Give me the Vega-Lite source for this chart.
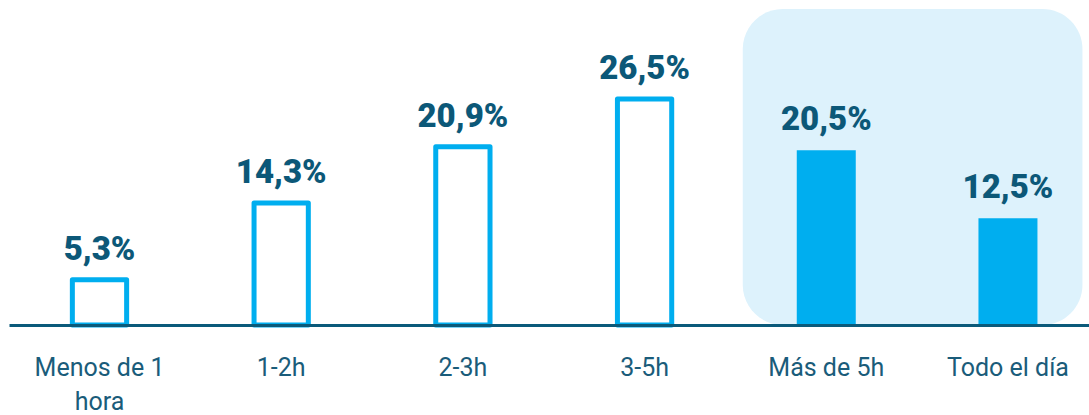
{
  "$schema": "https://vega.github.io/schema/vega-lite/v6.json",
  "width": 1080,
  "height": 325,
  "padding": {"left": 9, "top": 0, "right": 0, "bottom": 90},
  "autosize": {"type": "none"},
  "background": "white",
  "config": {
    "view": {"stroke": null},
    "locale": {"number": {"decimal": ",", "thousands": ".", "grouping": [3], "currency": ["", " €"]}}
  },
  "datasets": {
    "barras": [
      {"categoria": "Menos de 1 hora", "valor": 0.053, "grupo": "horas"},
      {"categoria": "1-2h", "valor": 0.143, "grupo": "horas"},
      {"categoria": "2-3h", "valor": 0.209, "grupo": "horas"},
      {"categoria": "3-5h", "valor": 0.265, "grupo": "horas"},
      {"categoria": "Más de 5h", "valor": 0.205, "grupo": "más"},
      {"categoria": "Todo el día", "valor": 0.125, "grupo": "más"}
    ],
    "fondo": [
      {"desde": "Más de 5h", "hasta": "Todo el día", "arriba": 0.3705}
    ]
  },
  "encoding": {
    "x": {
      "field": "categoria",
      "type": "nominal",
      "sort": null,
      "scale": {
        "domain": ["Menos de 1 hora", "1-2h", "2-3h", "3-5h", "Más de 5h", "Todo el día"],
        "paddingInner": 0.6753,
        "paddingOuter": 0.3097,
        "align": 0.542
      },
      "axis": {
        "title": null,
        "labelAngle": 0,
        "ticks": false,
        "tickSize": 0,
        "domain": true,
        "domainColor": "#0B5A7A",
        "domainWidth": 3,
        "labelFont": "Roboto",
        "labelFontSize": 25,
        "labelColor": "#1A5C7A",
        "labelPadding": 30,
        "labelLineHeight": 34,
        "labelLimit": 0,
        "labelExpr": "datum.label == 'Menos de 1 hora' ? ['Menos de 1', 'hora'] : datum.label"
      }
    }
  },
  "layer": [
    {
      "data": {"name": "fondo"},
      "mark": {"type": "rect", "color": "#DDF2FC", "cornerRadius": 40, "xOffset": -54, "x2Offset": 45},
      "encoding": {
        "x": {"field": "desde", "type": "nominal", "bandPosition": 0},
        "x2": {"field": "hasta", "bandPosition": 1},
        "y": {"field": "arriba", "type": "quantitative", "scale": {"domain": [0, 0.381]}, "axis": null},
        "y2": {"datum": 0}
      }
    },
    {
      "data": {"name": "barras"},
      "transform": [{"filter": "datum.grupo == 'horas'"}],
      "mark": {"type": "bar", "fill": "white", "stroke": "#00AEEF", "strokeWidth": 5, "strokeJoin": "round", "width": {"band": 0.92}},
      "encoding": {
        "y": {"field": "valor", "type": "quantitative", "scale": {"domain": [0, 0.381]}, "axis": null}
      }
    },
    {
      "data": {"name": "barras"},
      "transform": [{"filter": "datum.grupo == 'más'"}],
      "mark": {"type": "bar", "fill": "#00AEEF"},
      "encoding": {
        "y": {"field": "valor", "type": "quantitative", "scale": {"domain": [0, 0.381]}, "axis": null}
      }
    },
    {
      "data": {"name": "barras"},
      "mark": {"type": "text", "font": "Roboto", "fontWeight": 900, "fontSize": 33, "color": "#0C5878", "baseline": "alphabetic", "dy": -20},
      "encoding": {
        "y": {"field": "valor", "type": "quantitative", "scale": {"domain": [0, 0.381]}, "axis": null},
        "text": {"field": "valor", "type": "quantitative", "format": ".1%"}
      }
    }
  ]
}
